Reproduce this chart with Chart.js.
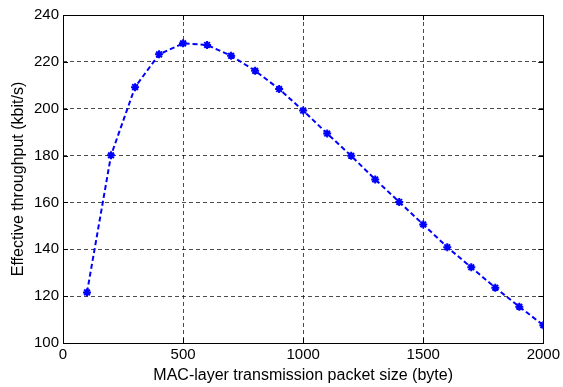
<!DOCTYPE html>
<html><head><meta charset="utf-8">
<script src="https://cdn.jsdelivr.net/npm/chart.js@4/dist/chart.umd.min.js"></script>
<style>html,body{margin:0;padding:0;background:#fff;}#wrap{width:563px;height:387px;}</style>
</head><body><div id="wrap"><canvas id="c"></canvas></div>
<script>
const packetSizes = [100,200,300,400,500,600,700,800,900,1000,1100,1200,1300,1400,1500,1600,1700,1800,1900,2000];
const throughput = [121.6,180.1,209.2,223.2,227.9,227.2,222.6,216.2,208.4,199.2,189.4,179.9,169.8,160.2,150.6,140.9,132.3,123.6,115.5,107.6];
const xTicks = [0,500,1000,1500,2000];
const yTicks = [100,120,140,160,180,200,220,240];
const xTitle = 'MAC-layer transmission packet size (byte)';
const yTitle = 'Effective throughput (kbit/s)';

const FONT = 'Liberation Sans, Arial, sans-serif';

const boxPlugin = {
  id:'box',
  afterDraw(chart){
    const {ctx, chartArea:a} = chart;
    ctx.save();
    ctx.strokeStyle='#000'; ctx.lineWidth=1; ctx.setLineDash([]);
    ctx.strokeRect(Math.round(a.left)+0.5, Math.round(a.top)+0.5, Math.round(a.right-a.left), Math.round(a.bottom-a.top));
    const xs = chart.scales.x, ys = chart.scales.y;
    ctx.beginPath();
    xTicks.forEach(v=>{const px=Math.round(xs.getPixelForValue(v))+0.5;
      ctx.moveTo(px,a.bottom); ctx.lineTo(px,a.bottom-5); ctx.moveTo(px,a.top); ctx.lineTo(px,a.top+5);});
    yTicks.forEach(v=>{const py=Math.round(ys.getPixelForValue(v))+0.5;
      ctx.moveTo(a.left,py); ctx.lineTo(a.left+5,py); ctx.moveTo(a.right,py); ctx.lineTo(a.right-5,py);});
    ctx.stroke();
    ctx.restore();
  }
};

new Chart(document.getElementById('c'), {
  type:'line',
  data:{ datasets:[{
    data: packetSizes.map((x,i)=>({x:x,y:throughput[i]})),
    borderColor:'#0000ff', backgroundColor:'#0000ff',
    borderWidth:2, borderDash:[5,3],
    pointStyle:'star', pointRadius:4, pointBorderWidth:2, pointBorderColor:'#0000ff',
    tension:0, fill:false
  }]},
  options:{
    responsive:true, maintainAspectRatio:false, animation:false,
    devicePixelRatio:1,
    layout:{padding:{top:15, right:19, left:0, bottom:0}},
    plugins:{legend:{display:false}, tooltip:{enabled:false}},
    scales:{
      x:{ type:'linear', min:0, max:2000,
        afterBuildTicks(s){ s.ticks = xTicks.map(v=>({value:v})); },
        afterFit(s){ s.height = 44; },
        grid:{ color:'rgba(0,0,0,0.7)', lineWidth:1, drawTicks:false, tickLength:0 },
        border:{ display:false, dash:[4,3] },
        ticks:{ color:'#000', font:{family:FONT, size:15}, padding:3, maxRotation:0, callback:v=>String(v) },
        title:{ display:true, text:xTitle, color:'#000', font:{family:FONT, size:16}, padding:{top:0,bottom:2} }
      },
      y:{ type:'linear', min:100, max:240,
        afterBuildTicks(s){ s.ticks = yTicks.map(v=>({value:v})); },
        afterFit(s){ s.width = 63; },
        grid:{ color:'rgba(0,0,0,0.7)', lineWidth:1, drawTicks:false, tickLength:0 },
        border:{ display:false, dash:[4,3] },
        ticks:{ color:'#000', font:{family:FONT, size:15}, padding:4, callback:v=>String(v) },
        title:{ display:true, text:yTitle, color:'#000', font:{family:FONT, size:16}, padding:{top:9,bottom:0} }
      }
    }
  },
  plugins:[boxPlugin]
});
</script></body></html>
